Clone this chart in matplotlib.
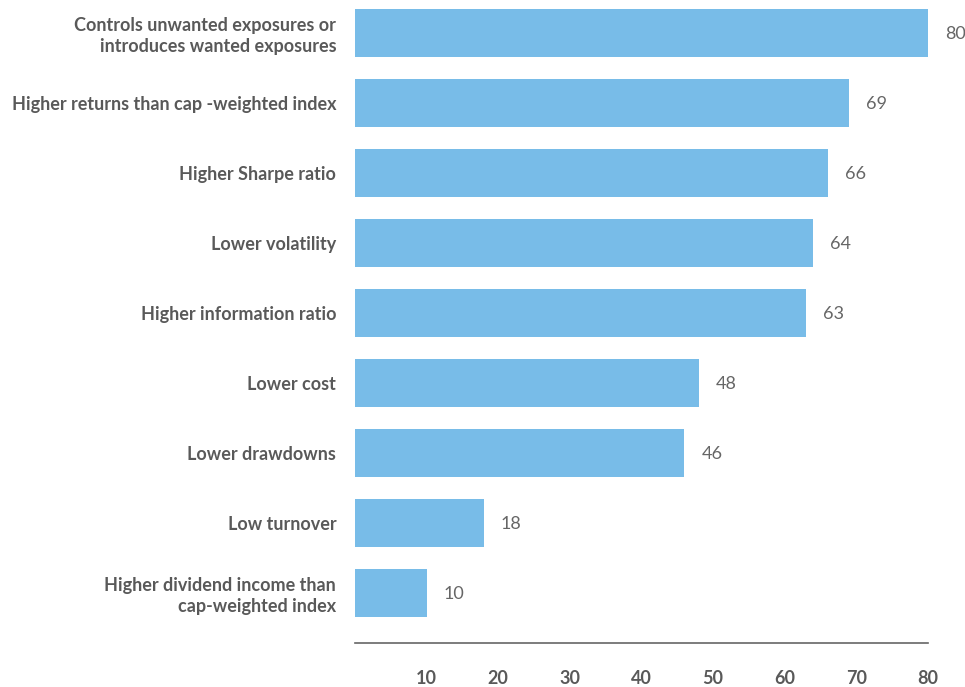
import matplotlib
matplotlib.use("Agg")
import matplotlib.pyplot as plt

categories = [
    "Controls unwanted exposures or\nintroduces wanted exposures",
    "Higher returns than cap -weighted index",
    "Higher Sharpe ratio",
    "Lower volatility",
    "Higher information ratio",
    "Lower cost",
    "Lower drawdowns",
    "Low turnover",
    "Higher dividend income than\ncap-weighted index",
]
values = [80, 69, 66, 64, 63, 48, 46, 18, 10]
xticks = [10, 20, 30, 40, 50, 60, 70, 80]

W, H = 965, 687
fig = plt.figure(figsize=(W / 100, H / 100), dpi=100)
ax = fig.add_axes([355 / W, (H - 643) / H, (928 - 355) / W, 643 / H])

bar_color = "#78BCE8"
label_color = "#595959"
value_color = "#666666"
font = "Lato"

ys = list(range(len(categories)))
ax.barh(ys, values, height=48 / 70, color=bar_color, zorder=2)
ax.set_xlim(0, 80)
ax.set_ylim(610 / 70, -33 / 70)

for y, v in zip(ys, values):
    ax.annotate(str(v), xy=(v, y), xytext=(17, -1), textcoords="offset pixels",
                va="center", ha="left", fontsize=13, color=value_color, family=font)

ax.set_yticks(ys)
ax.set_yticklabels(categories, fontsize=13, fontweight="bold", color=label_color,
                   family=font, linespacing=1.25)
ax.tick_params(axis="y", length=0, pad=13.5)
ax.set_xticks(xticks)
ax.set_xticklabels([str(t) for t in xticks], fontsize=13, fontweight="bold",
                   color=label_color, family=font)
ax.tick_params(axis="x", length=0, pad=19.5)

for s in ["top", "right", "left"]:
    ax.spines[s].set_visible(False)
ax.spines["bottom"].set_color("#666666")
ax.spines["bottom"].set_linewidth(1.2)

fig.savefig("out.png", dpi=100)
